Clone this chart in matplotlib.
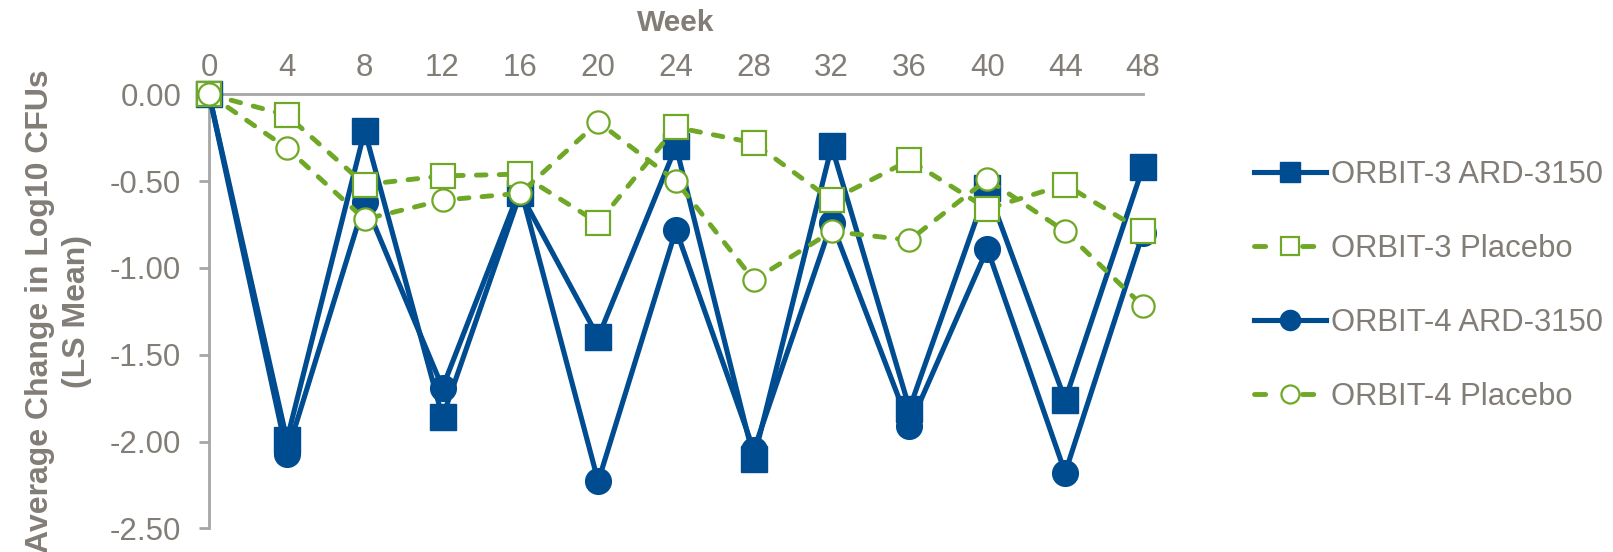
import matplotlib
matplotlib.use("Agg")
import matplotlib.pyplot as plt
from matplotlib.ticker import FixedLocator, FixedFormatter
from matplotlib.lines import Line2D

plt.rcParams['font.family'] = ['Liberation Sans', 'DejaVu Sans']
plt.rcParams['axes.unicode_minus'] = False

weeks = [0, 4, 8, 12, 16, 20, 24, 28, 32, 36, 40, 44, 48]
orbit3_ard = [0.00, -1.99, -0.21, -1.86, -0.57, -1.40, -0.30, -2.10, -0.30, -1.81, -0.54, -1.76, -0.42]
orbit3_pbo = [0.00, -0.12, -0.52, -0.47, -0.46, -0.74, -0.19, -0.28, -0.61, -0.38, -0.66, -0.52, -0.79]
orbit4_ard = [0.00, -2.07, -0.62, -1.69, -0.54, -2.23, -0.78, -2.05, -0.74, -1.91, -0.89, -2.18, -0.80]
orbit4_pbo = [0.00, -0.31, -0.72, -0.61, -0.57, -0.16, -0.50, -1.07, -0.79, -0.84, -0.49, -0.79, -1.22]
labels = ["ORBIT-3 ARD-3150", "ORBIT-3 Placebo", "ORBIT-4 ARD-3150", "ORBIT-4 Placebo"]
yticks = [0.0, -0.5, -1.0, -1.5, -2.0, -2.5]
ytick_labels = ["0.00", "-0.50", "-1.00", "-1.50", "-2.00", "-2.50"]

BLUE = '#004C91'
GREEN = '#6FA826'
GRAY = '#827D76'
SPINE = '#A6A6A6'

fig = plt.figure(figsize=(16.13, 5.52), dpi=100)
ax = fig.add_axes([0.1296, 0.0429, 0.5790, 0.7863])

dash = (2.0, 2.7)
blue_kw = dict(color=BLUE, lw=3.7, mfc=BLUE, mec=BLUE)
green_kw = dict(color=GREEN, lw=3.5, mfc='white', mec=GREEN, mew=1.6, dash_capstyle='round')

ax.plot(weeks, orbit3_ard, marker='s', ms=18.5, clip_on=False, zorder=3, **blue_kw)
ax.plot(weeks, orbit4_ard, marker='o', ms=18.5, clip_on=False, zorder=3, **blue_kw)
ax.plot(weeks, orbit3_pbo, ls=(0, dash), marker='s', ms=17, clip_on=False, zorder=4, **green_kw)
ax.plot(weeks, orbit4_pbo, ls=(0, dash), marker='o', ms=16, clip_on=False, zorder=4, **green_kw)

ax.set_xlim(0, 48)
ax.set_ylim(-2.5, 0)

for s in ['right', 'bottom']:
    ax.spines[s].set_visible(False)
for s in ['top', 'left']:
    ax.spines[s].set_color(SPINE)
    ax.spines[s].set_linewidth(2.0)

ax.xaxis.tick_top()
ax.xaxis.set_label_position('top')
ax.xaxis.set_major_locator(FixedLocator(weeks))
ax.xaxis.set_major_formatter(FixedFormatter([str(w) for w in weeks]))
ax.xaxis.set_minor_locator(FixedLocator(weeks[2::2]))
ax.tick_params(axis='x', which='major', length=0, pad=8, labelsize=22.5, labelcolor=GRAY)
ax.tick_params(axis='x', which='minor', direction='in', length=7, width=2, color=SPINE)

ax.yaxis.set_major_locator(FixedLocator(yticks))
ax.yaxis.set_major_formatter(FixedFormatter(ytick_labels))
ax.tick_params(axis='y', direction='out', length=7, width=2, color=SPINE, pad=13,
               labelsize=22.5, labelcolor=GRAY)

ax.set_xlabel("Week", fontsize=21.5, fontweight='bold', color=GRAY, labelpad=16)
ax.set_ylabel("Average Change in Log10 CFUs\n(LS Mean)", fontsize=23, fontweight='bold',
              color=GRAY, linespacing=1.30)
ax.yaxis.set_label_coords(-0.125, 0.50)

# legend handles (one dash on each side of the marker, as in the reference)
leg_dash = (2.3, 7.6)
h1 = Line2D([], [], marker='s', ms=14.5, **blue_kw)
h2 = Line2D([], [], ls=(0, leg_dash), marker='s', ms=13.5, **green_kw)
h3 = Line2D([], [], marker='o', ms=14.5, **blue_kw)
h4 = Line2D([], [], ls=(0, leg_dash), marker='o', ms=13, **green_kw)

leg_size = 22.3
fig.legend([h1, h2, h3, h4], labels, loc='upper left',
           bbox_to_anchor=(1254 / 1613, 1 - 160 / 552), frameon=False,
           prop={'size': leg_size}, labelcolor=GRAY,
           handlelength=72 / (leg_size * 100 / 72), handletextpad=0.15,
           labelspacing=1.42, borderaxespad=0, borderpad=0)

fig.savefig("out.png", dpi=100)
